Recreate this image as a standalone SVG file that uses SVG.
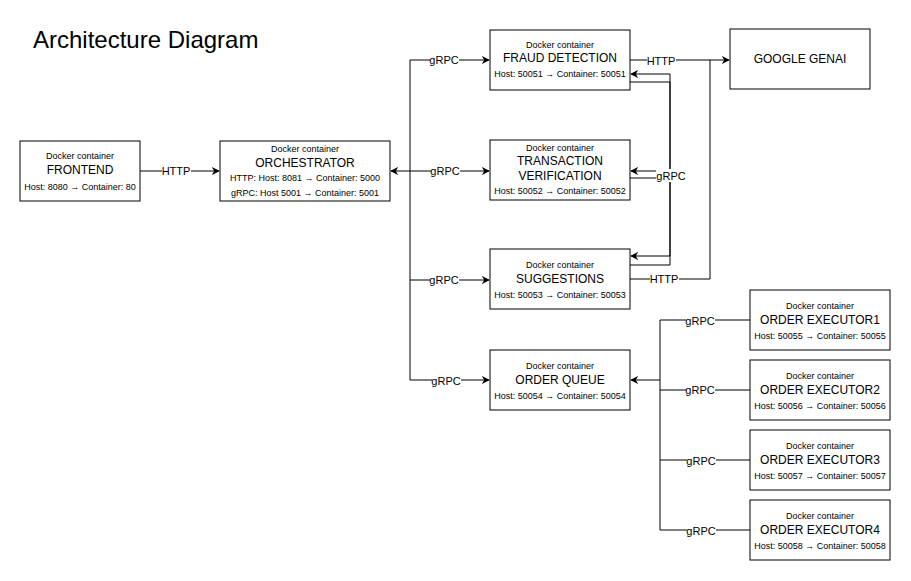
<svg xmlns="http://www.w3.org/2000/svg" width="911" height="581" viewBox="0 0 911 581">
  <style>
    .box { fill: #ffffff; stroke: #000000; stroke-width: 1; }
    .edge { fill: none; stroke: #000000; stroke-width: 1; }
    text { font-family: "Liberation Sans", Arial, sans-serif; fill: #000000; text-anchor: middle; }
    .small { font-size: 9px; }
    .name { font-size: 12px; }
    .port { font-size: 9px; }
    .lbl { font-size: 11px; dominant-baseline: central; }
    .lblbg { fill: #ffffff; }
    .title { font-size: 24px; text-anchor: start; }
  </style>
  <defs>
    <marker id="arrow" viewBox="0 0 10 10" refX="9" refY="5" markerWidth="8" markerHeight="8" markerUnits="userSpaceOnUse" orient="auto-start-reverse">
      <path d="M0,0 L10,5 L0,10 L3,5 Z" fill="#000000"/>
    </marker>
  </defs>

  <rect width="911" height="581" fill="#ffffff"/>

  <text class="title" x="33" y="48">Architecture Diagram</text>

  <!-- connectors -->
  <g id="connectors">
    <!-- frontend to orchestrator -->
    <path class="edge" d="M140,171 L219,171" marker-end="url(#arrow)"/>
    <!-- orchestrator gRPC bus -->
    <path class="edge" d="M391,171 L410,171" marker-start="url(#arrow)"/>
    <path class="edge" d="M410,171 L410,60 L489,60" marker-end="url(#arrow)"/>
    <path class="edge" d="M410,171 L489,171" marker-end="url(#arrow)"/>
    <path class="edge" d="M410,171 L410,280 L489,280" marker-end="url(#arrow)"/>
    <path class="edge" d="M410,280 L410,380 L489,380" marker-end="url(#arrow)"/>
    <!-- services to Google GenAI -->
    <path class="edge" d="M630,60 L729,60" marker-end="url(#arrow)"/>
    <path class="edge" d="M630,279 L710,279 L710,60"/>
    <!-- fraud detection / verification / suggestions loop -->
    <path class="edge" d="M630,82 L670,82 L670,256 L631,256" marker-end="url(#arrow)"/>
    <path class="edge" d="M630,265 L670,265 L670,74 L631,74" marker-end="url(#arrow)"/>
    <path class="edge" d="M670,171 L631,171" marker-end="url(#arrow)"/>
    <path class="edge" d="M630,178 L670,178"/>
    <!-- executors to order queue -->
    <path class="edge" d="M660,380 L631,380" marker-end="url(#arrow)"/>
    <path class="edge" d="M750,320 L660,320 L660,530 L750,530"/>
    <path class="edge" d="M750,390 L660,390"/>
    <path class="edge" d="M750,460 L660,460"/>

    <!-- labels -->
    <rect class="lblbg" x="162" y="165" width="29" height="12"/>
    <text class="lbl" x="176" y="171">HTTP</text>
    <rect class="lblbg" x="430" y="54" width="29" height="12"/>
    <text class="lbl" x="444" y="60">gRPC</text>
    <rect class="lblbg" x="431" y="165" width="29" height="12"/>
    <text class="lbl" x="445" y="171">gRPC</text>
    <rect class="lblbg" x="430" y="274" width="29" height="12"/>
    <text class="lbl" x="444" y="280">gRPC</text>
    <rect class="lblbg" x="432" y="375" width="29" height="12"/>
    <text class="lbl" x="446" y="381">gRPC</text>
    <rect class="lblbg" x="647" y="55" width="29" height="12"/>
    <text class="lbl" x="661" y="61">HTTP</text>
    <rect class="lblbg" x="650" y="273" width="29" height="12"/>
    <text class="lbl" x="664" y="279">HTTP</text>
    <rect class="lblbg" x="656" y="169" width="30" height="13"/>
    <text class="lbl" x="671" y="176">gRPC</text>
    <rect class="lblbg" x="686" y="315" width="29" height="12"/>
    <text class="lbl" x="700" y="321">gRPC</text>
    <rect class="lblbg" x="686" y="384" width="29" height="12"/>
    <text class="lbl" x="700" y="390">gRPC</text>
    <rect class="lblbg" x="687" y="455" width="29" height="12"/>
    <text class="lbl" x="701" y="461">gRPC</text>
    <rect class="lblbg" x="687" y="525" width="29" height="12"/>
    <text class="lbl" x="701" y="531">gRPC</text>
  </g>

  <!-- nodes -->
  <g id="frontend">
    <rect class="box" x="20" y="141" width="120" height="60"/>
    <text class="small" x="80" y="159">Docker container</text>
    <text class="name" x="80" y="174">FRONTEND</text>
    <text class="port" x="80" y="190">Host: 8080 → Container: 80</text>
  </g>

  <g id="orchestrator">
    <rect class="box" x="220" y="141" width="170" height="60"/>
    <text class="small" x="305" y="152">Docker container</text>
    <text class="name" x="305" y="167">ORCHESTRATOR</text>
    <text class="port" x="305" y="181">HTTP: Host: 8081 → Container: 5000</text>
    <text class="port" x="305" y="196">gRPC: Host 5001 → Container: 5001</text>
  </g>

  <g id="fraud-detection">
    <rect class="box" x="490" y="30" width="140" height="60"/>
    <text class="small" x="560" y="48">Docker container</text>
    <text class="name" x="560" y="62">FRAUD DETECTION</text>
    <text class="port" x="560" y="77">Host: 50051 → Container: 50051</text>
  </g>

  <g id="transaction-verification">
    <rect class="box" x="490" y="140" width="140" height="60"/>
    <text class="small" x="560" y="151">Docker container</text>
    <text class="name" x="560" y="165">TRANSACTION</text>
    <text class="name" x="560" y="180">VERIFICATION</text>
    <text class="port" x="560" y="194">Host: 50052 → Container: 50052</text>
  </g>

  <g id="suggestions">
    <rect class="box" x="490" y="249" width="140" height="60"/>
    <text class="small" x="560" y="268">Docker container</text>
    <text class="name" x="560" y="283">SUGGESTIONS</text>
    <text class="port" x="560" y="298">Host: 50053 → Container: 50053</text>
  </g>

  <g id="order-queue">
    <rect class="box" x="490" y="350" width="140" height="60"/>
    <text class="small" x="560" y="369">Docker container</text>
    <text class="name" x="560" y="384">ORDER QUEUE</text>
    <text class="port" x="560" y="399">Host: 50054 → Container: 50054</text>
  </g>

  <g id="google-genai">
    <rect class="box" x="730" y="29" width="140" height="60"/>
    <text class="name" x="800" y="63">GOOGLE GENAI</text>
  </g>

  <g id="order-executor1">
    <rect class="box" x="750" y="290" width="140" height="60"/>
    <text class="small" x="820" y="309">Docker container</text>
    <text class="name" x="820" y="324">ORDER EXECUTOR1</text>
    <text class="port" x="820" y="339">Host: 50055 → Container: 50055</text>
  </g>

  <g id="order-executor2">
    <rect class="box" x="750" y="360" width="140" height="60"/>
    <text class="small" x="820" y="379">Docker container</text>
    <text class="name" x="820" y="394">ORDER EXECUTOR2</text>
    <text class="port" x="820" y="409">Host: 50056 → Container: 50056</text>
  </g>

  <g id="order-executor3">
    <rect class="box" x="750" y="430" width="140" height="60"/>
    <text class="small" x="820" y="449">Docker container</text>
    <text class="name" x="820" y="464">ORDER EXECUTOR3</text>
    <text class="port" x="820" y="479">Host: 50057 → Container: 50057</text>
  </g>

  <g id="order-executor4">
    <rect class="box" x="750" y="500" width="140" height="60"/>
    <text class="small" x="820" y="519">Docker container</text>
    <text class="name" x="820" y="534">ORDER EXECUTOR4</text>
    <text class="port" x="820" y="549">Host: 50058 → Container: 50058</text>
  </g>
</svg>
